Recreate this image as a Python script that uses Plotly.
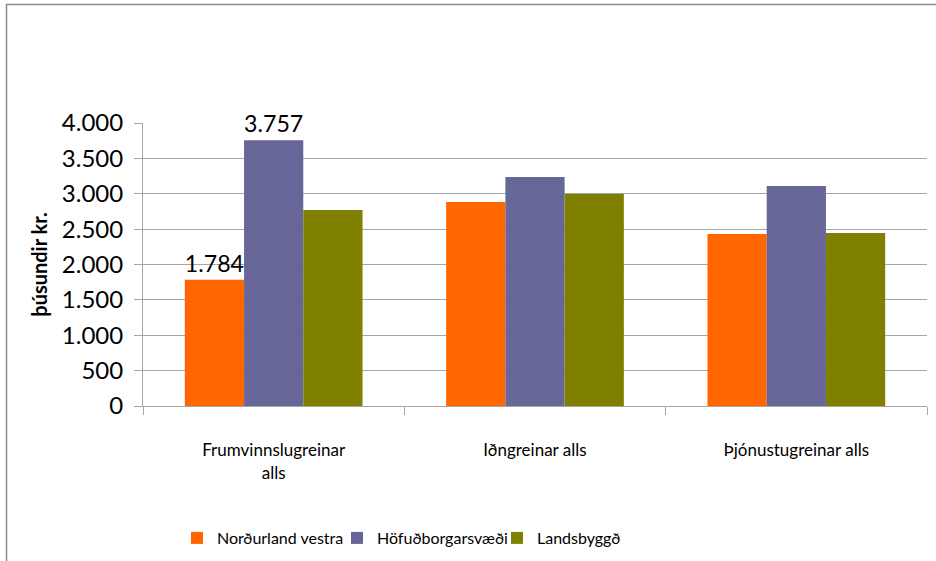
import plotly.graph_objects as go

categories = ["Frumvinnslugreinar<br>alls", "Iðngreinar alls", "Þjónustugreinar alls"]
series_names = ["Norðurland vestra", "Höfuðborgarsvæði", "Landsbyggð"]
nordurland = [1784, 2883, 2431]
hofudborg = [3757, 3237, 3110]
landsbyggd = [2770, 2996, 2445]
label_nordurland = ["1.784", "", ""]
label_hofudborg = ["3.757", "", ""]
label_landsbyggd = ["", "", ""]
y_ticks = [0, 500, 1000, 1500, 2000, 2500, 3000, 3500, 4000]

colors = ["#FF6600", "#666699", "#808000"]
FONT = "Lato"

fig = go.Figure()
for name, vals, labels, col in zip(series_names,
                                    [nordurland, hofudborg, landsbyggd],
                                    [label_nordurland, label_hofudborg, label_landsbyggd],
                                    colors):
    fig.add_trace(go.Bar(
        x=categories, y=vals, name=name, marker=dict(color=col, line=dict(width=0)),
        text=labels, textposition="outside", cliponaxis=False,
        textfont=dict(family=FONT, size=24, color="black"),
    ))

# plot area in pixels: x 143..927, y 123..406
L, R, T, B = 143, 936 - 927, 123, 561 - 406
W, H = 936 - L - R, 561 - T - B

def px_x(p):
    return (p - L) / W

def px_y(p):
    return (561 - B - p) / H

fig.add_shape(type="rect", xref="paper", yref="paper",
              x0=px_x(6.5), x1=px_x(945), y0=px_y(4.5), y1=px_y(570),
              line=dict(color="#8c8c8c", width=1.5), fillcolor="rgba(0,0,0,0)", layer="below")

fig.update_layout(
    width=936, height=561,
    margin=dict(l=L, r=R, t=T, b=B, autoexpand=False),
    paper_bgcolor="white", plot_bgcolor="white",
    barmode="group", bargap=0.32, bargroupgap=0,
    separators=",.",
    font=dict(family=FONT, color="black"),
    showlegend=True,
    legend=dict(orientation="h", x=px_x(177), xanchor="left", y=px_y(538), yanchor="middle",
                font=dict(family=FONT, size=16, color="black"), itemwidth=30,
                entrywidth=115, entrywidthmode="pixels",
                bgcolor="rgba(0,0,0,0)", traceorder="normal"),
)
fig.update_yaxes(range=[0, 4000], tickvals=y_ticks,
                 ticktext=[f"{v:,}".replace(",", ".") for v in y_ticks],
                 showgrid=True, gridcolor="#a6a6a6", gridwidth=1,
                 showline=True, linecolor="#a6a6a6", linewidth=1,
                 ticks="outside", ticklen=8, tickcolor="#a6a6a6",
                 tickfont=dict(family=FONT, size=24, color="black"),
                 ticklabelstandoff=6, automargin=False,
                 zeroline=False,
                 title=dict(text="<b>þúsundir kr.</b>", font=dict(family=FONT, size=20, color="black"),
                            standoff=8))
fig.update_xaxes(showline=True, linecolor="#a6a6a6", linewidth=1,
                 ticks="outside", ticklen=8, tickcolor="#a6a6a6", tickson="boundaries",
                 tickfont=dict(family=FONT, size=17, color="black"),
                 ticklabelstandoff=29, automargin=False)

fig.write_html("out.html", config={"displayModeBar": False},
               post_script="document.body.style.margin='0';document.body.style.overflow='hidden';")
